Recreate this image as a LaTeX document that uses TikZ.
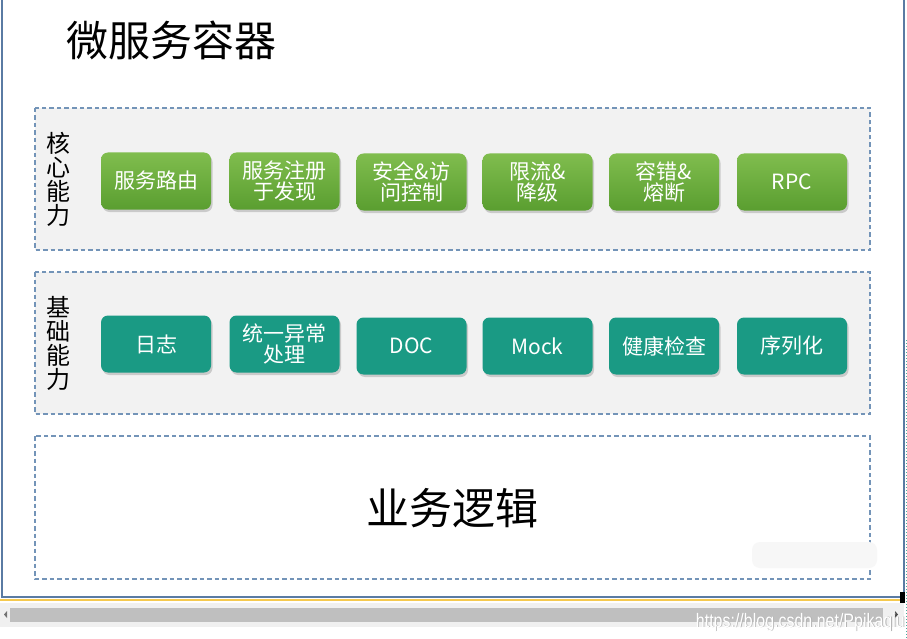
\documentclass[tikz,border=0pt]{standalone}
\usepackage{fontspec}
\setmainfont{Noto Sans CJK SC}
\newfontfamily\wmfont[FakeStretch=0.82]{Liberation Sans}
\usetikzlibrary{shadows}
\definecolor{framec}{HTML}{5A7BA3}
\definecolor{dashc}{HTML}{7394B8}
\definecolor{panelc}{HTML}{F2F2F2}
\definecolor{gtop}{HTML}{80BD4E}
\definecolor{gbot}{HTML}{5A9E30}
\definecolor{teal}{HTML}{1A9A84}
\definecolor{yel}{HTML}{F5C94E}
\tikzset{
  panel/.style={draw=dashc, dash pattern=on 4.5pt off 3pt, line width=1.1pt, fill=panelc},
  greenbox/.style={rounded corners=7pt, minimum width=110pt, minimum height=57pt,
    top color=gtop, bottom color=gbot, draw=none, text=white, align=center,
    font=\fontsize{21}{24}\selectfont,
    drop shadow={opacity=0.35, shadow xshift=1.5pt, shadow yshift=-2.5pt}},
  tealbox/.style={rounded corners=7pt, minimum width=110pt, minimum height=57pt,
    fill=teal, draw=none, text=white, align=center,
    font=\fontsize{21}{24}\selectfont,
    drop shadow={opacity=0.35, shadow xshift=1.5pt, shadow yshift=-2.5pt}},
  sidelabel/.style={align=center, font=\fontsize{24}{24}\selectfont, text=black, inner sep=0pt},
  wmstyle/.style={anchor=east, font=\wmfont\fontsize{19.5}{19.5}\selectfont, inner sep=0pt},
}
\begin{document}
\begin{tikzpicture}[x=1pt,y=-1pt]
\useasboundingbox (0,0) rectangle (907,639);
\fill[white] (0,0) rectangle (907,639);
% window frame
\draw[framec, line width=1.5pt] (2,0) -- (2,597) -- (904,597) -- (904,0);
\fill[yel] (0,598.5) rectangle (900,601);
\fill[black] (900,592) rectangle (905,603);
\fill[black!6] (0,603) rectangle (904,627);
\fill[black!25] (10,608) rectangle (883,622);
\fill[black!55] (7,611) -- (4,614.5) -- (7,618) -- cycle;
\fill[black!70] (895,611) -- (898,614.5) -- (895,618) -- cycle;
\draw[teal!80, dotted, line width=1pt] (906,340) -- (906,639);
\node[wmstyle, text=black!30] (wms) at (905.8,622.8) {https://blog.csdn.net/Ppikaqiu};
\node[wmstyle, text=white] (wm) at (905,622) {https://blog.csdn.net/Ppikaqiu};
% title
\node[anchor=west, font=\fontsize{42}{42}\selectfont, inner sep=0pt] (title) at (66,40) {微服务容器};
% panels
\draw[panel] (35,108) rectangle (870,250);
\draw[panel] (35,272) rectangle (870,414);
\draw[panel, fill=white] (35,436) rectangle (870,579);
% blurred blob
\fill[black!3, rounded corners=8pt] (752,542) rectangle (877,568);
% side labels
\node[sidelabel] (l1) at (58,179) {核\\心\\能\\力};
\node[sidelabel] (l2) at (58,343) {基\\础\\能\\力};
% core row
\node[greenbox] (a1) at (156,181) {服务路由};
\node[greenbox] (a2) at (284.5,181) {服务注册\\[-3pt]于发现};
\node[greenbox] (a3) at (411.5,182) {安全\&访\\[-3pt]问控制};
\node[greenbox] (a4) at (537.5,182) {限流\&\\[-3pt]降级};
\node[greenbox] (a5) at (664,182) {容错\&\\[-3pt]熔断};
\node[greenbox] (a6) at (792,182) {RPC};
% base row
\node[tealbox] (b1) at (156,344) {日志};
\node[tealbox] (b2) at (284.5,344) {统一异常\\[-3pt]处理};
\node[tealbox] (b3) at (411.5,346) {DOC};
\node[tealbox] (b4) at (537.5,346) {Mock};
\node[tealbox] (b5) at (664,346) {健康检查};
\node[tealbox] (b6) at (792,346) {序列化};
% business
\node[font=\fontsize{43}{43}\selectfont, inner sep=0pt] (biz) at (452,508) {业务逻辑};
\end{tikzpicture}
\end{document}
